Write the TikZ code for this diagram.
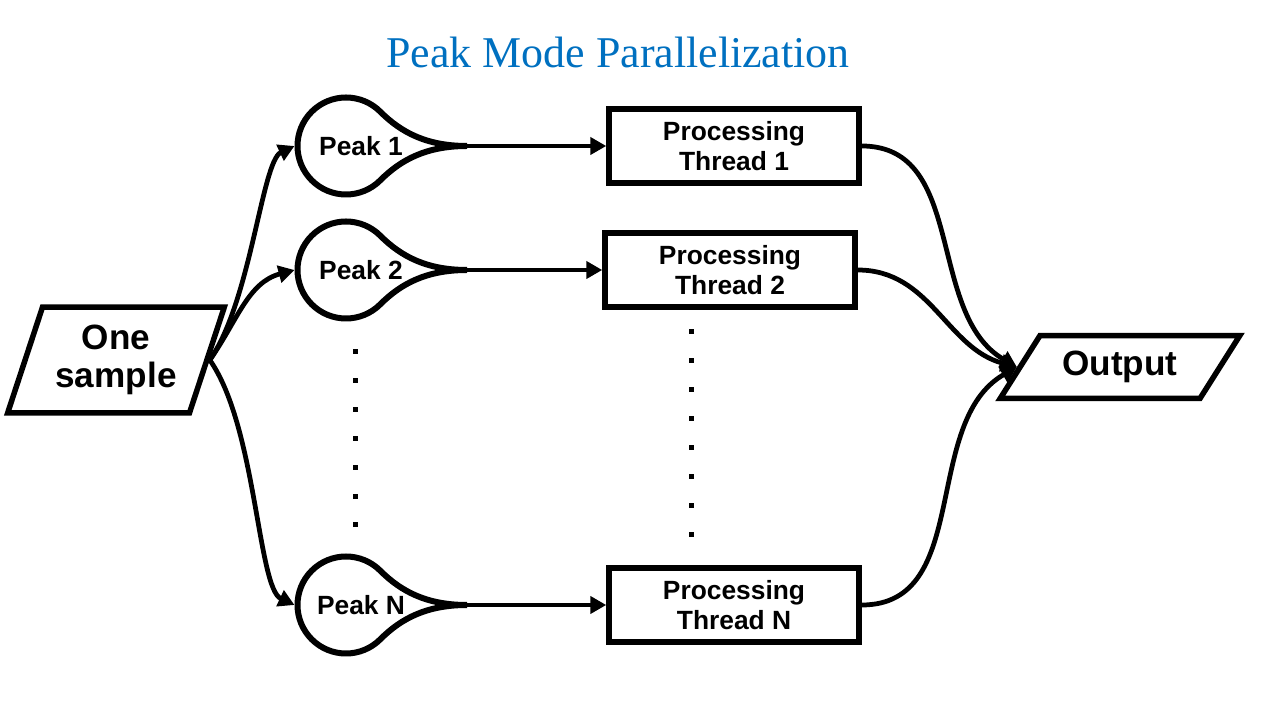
\documentclass[tikz,border=0pt]{standalone}
\usepackage{fontspec}
\setmainfont{Liberation Sans}
\newfontfamily\titlefont{Liberation Serif}
\usetikzlibrary{shapes.geometric,arrows.meta,calc}
\definecolor{titleblue}{RGB}{0,112,192}

\begin{document}
\begin{tikzpicture}[x=0.02cm, y=0.02cm, line width=0.095cm,
    arr/.style={-{Triangle[length=0.32cm,width=0.34cm]}},
    peak/.style={circle, minimum size=1.94cm, inner sep=0, outer sep=0.06cm},
    pklabel/.style={xshift=0.3cm, font=\bfseries\fontsize{15}{18}\selectfont},
    thread/.style={draw, line width=0.11cm, minimum width=5cm, minimum height=1.48cm,
      align=center, font=\bfseries\fontsize{15}{17}\selectfont},
    io/.style={draw, line width=0.11cm, trapezium, trapezium stretches=true,
      align=center, font=\bfseries\fontsize{20}{22}\selectfont},
    dot/.style={fill, inner sep=0, minimum size=0.1cm}]
  \useasboundingbox (0,0) rectangle (1280,720);

  \node[text=titleblue, font=\titlefont\fontsize{25}{30}\selectfont] (ttl) at (618,668) {Peak Mode Parallelization};

  % input and output
  \node[io, trapezium left angle=69, trapezium right angle=111,
    minimum width=4.34cm, minimum height=2.12cm] (smp) at (116,360) {One\\sample};
  \node[io, trapezium left angle=54, trapezium right angle=126,
    minimum width=4.8cm, minimum height=1.26cm] (out) at (1120,353) {Output};

  % peaks
  \node[peak, label={[pklabel]center:Peak 1}](p1) at (346,574) {};
  \node[peak, label={[pklabel]center:Peak 2}](p2) at (346,450) {};
  \node[peak, label={[pklabel]center:Peak N}](pN) at (346,115) {};
  \coordinate (k1) at (467,574);
  \coordinate (k2) at (467,450);
  \coordinate (kN) at (467,115);
  \foreach \p in {p1,p2,pN}
    \draw[line width=0.12cm] ($(\p)+(121,0)$) .. controls +(-40,0) and +(21,-21) .. ($(\p)+(34.3,34.3)$)
      arc[start angle=45, end angle=315, radius=48.5]
      .. controls +(21,21) and +(-40,0) .. ($(\p)+(121,0)$);

  % threads
  \node[thread](t1) at (734,574) {Processing\\Thread 1};
  \node[thread](t2) at (730,450) {Processing\\Thread 2};
  \node[thread](tN) at (734,115) {Processing\\Thread N};

  % dots
  \foreach \i in {0,...,6} \node[dot] (dl\i) at (355,368-28.83*\i) {};
  \foreach \i in {0,...,7} \node[dot] (dr\i) at (691,388-28.86*\i) {};

  % connectors
  \draw[arr] (smp.east) to[out=55, in=205, out looseness=0.8, in looseness=0.4] (p1.west);
  \draw[arr] (smp.east) to[out=55, in=195] (p2.west);
  \draw[arr] (smp.east) to[out=-55, in=155, out looseness=0.8, in looseness=0.4] (pN.west);

  \draw[arr] (k1) -- (t1.west);
  \draw[arr] (k2) -- (t2.west);
  \draw[arr] (kN) -- (tN.west);

  \draw[arr] (t1.east) to[out=0, in=150] (out.west);
  \draw[arr] (t2.east) to[out=0, in=165] (out.west);
  \draw[arr] (tN.east) to[out=0, in=210] (out.west);
\end{tikzpicture}
\end{document}
